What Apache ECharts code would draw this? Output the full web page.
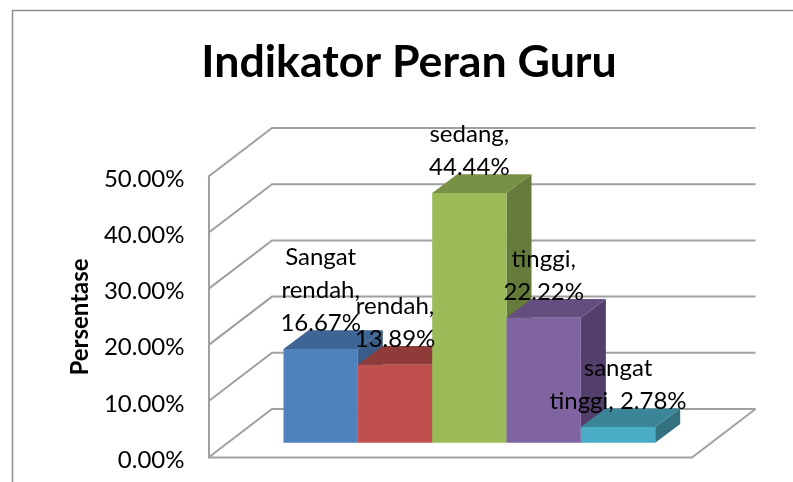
<!DOCTYPE html>
<html>
<head>
<meta charset="utf-8">
<style>html,body{margin:0;padding:0;background:#fff}#c{width:793px;height:482px}</style>
<script src="https://cdn.jsdelivr.net/npm/echarts@6/dist/echarts.min.js"></script>
</head>
<body>
<div id="c"></div>
<script>
const titleText = 'Indikator Peran Guru';
const axisName = 'Persentase';
const categories = ['Sangat rendah', 'rendah', 'sedang', 'tinggi', 'sangat tinggi'];
const values = [16.67, 13.89, 44.44, 22.22, 2.78];
const labelTexts = ['Sangat\nrendah,\n16.67%', 'rendah,\n13.89%', 'sedang,\n44.44%', 'tinggi,\n22.22%', 'sangat\ntinggi, 2.78%'];
const wallTicks = [0, 10, 20, 30, 40, 50];
const frontColors = ['#4f81bd', '#c0504d', '#9bbb59', '#8064a2', '#4bacc6'];
const topColors = ['#3e6594', '#8f3b39', '#799145', '#644e7f', '#3b8599'];
const sideColors = ['#395c88', '#843735', '#667b3b', '#533f6b', '#33717f'];

const FONT = 'Lato';
const WALL_DX = 63.5, WALL_DY = 48.5, BAR_DX = 25, BAR_DY = 18.7;
const LINE = '#a0a0a0';

const chart = echarts.init(document.getElementById('c'), null, {renderer: 'canvas'});

function renderWall(params, api) {
  const v = api.value(1);
  const a = api.coord([0, v]);
  const b = api.coord([1, v]);
  const pts = [[a[0], a[1]], [a[0] + WALL_DX, a[1] - WALL_DY], [b[0] + WALL_DX, b[1] - WALL_DY]];
  const style = {stroke: LINE, lineWidth: 2, fill: null};
  const children = [{type: 'polyline', shape: {points: pts}, style}];
  if (v === 0) {
    children.push({type: 'polyline', shape: {points: [[a[0], a[1]], [b[0], b[1]], [b[0] + WALL_DX, b[1] - WALL_DY]]}, style});
  }
  return {type: 'group', children};
}

function renderBar(params, api) {
  const i = params.dataIndex;
  const w = api.size([1, 0])[0];
  const c = api.coord([i, api.value(1)]);
  const base = api.coord([i, 0]);
  const l = c[0] - w / 2, r = c[0] + w / 2, t = c[1], b = base[1];
  return {
    type: 'group',
    children: [
      {type: 'polygon', shape: {points: [[r, t], [r + BAR_DX, t - BAR_DY], [r + BAR_DX, b - BAR_DY], [r, b]]}, style: {fill: sideColors[i]}},
      {type: 'polygon', shape: {points: [[l, t], [l + BAR_DX, t - BAR_DY], [r + BAR_DX, t - BAR_DY], [r, t]]}, style: {fill: topColors[i]}},
      {type: 'rect', shape: {x: l, y: t, width: r - l, height: b - t}, style: {fill: frontColors[i]}}
    ]
  };
}

function renderLabel(params, api) {
  const i = params.dataIndex;
  const c = api.coord([i, api.value(1)]);
  return {
    type: 'text',
    x: c[0], y: c[1] - 9,
    style: {
      text: labelTexts[i], fill: '#000', align: 'center', verticalAlign: 'bottom',
      font: '24px ' + FONT, lineHeight: 33
    }
  };
}

chart.setOption({
  animation: false,
  backgroundColor: '#ffffff',
  title: {
    text: titleText, left: 404, top: 35, textAlign: 'center',
    textStyle: {fontFamily: FONT, fontWeight: 'bold', fontSize: 44.7, color: '#000'}
  },
  grid: [
    {left: 208.5, top: 176.5, width: 483.5, height: 281},
    {left: 283.5, top: 161.7, width: 371.7, height: 281},
    {left: 208.5, top: 179, width: 483.5, height: 281}
  ],
  xAxis: [
    {gridIndex: 0, type: 'value', min: 0, max: 1, show: false},
    {gridIndex: 1, type: 'category', data: categories, show: false},
    {gridIndex: 2, type: 'value', min: 0, max: 1, show: false}
  ],
  yAxis: [
    {
      gridIndex: 0, type: 'value', min: 0, max: 50, interval: 10,
      name: axisName, nameLocation: 'middle', nameRotate: 90, nameGap: 116,
      nameTextStyle: {fontFamily: FONT, fontWeight: 'bold', fontSize: 24, color: '#000'},
      axisLine: {show: true, lineStyle: {color: LINE, width: 2}},
      axisTick: {show: false}, splitLine: {show: false},
      axisLabel: {show: false}
    },
    {gridIndex: 1, type: 'value', min: 0, max: 50, interval: 10, show: false},
    {
      gridIndex: 2, type: 'value', min: 0, max: 50, interval: 10,
      axisLine: {show: false}, axisTick: {show: false}, splitLine: {show: false},
      axisLabel: {margin: 24, fontFamily: FONT, fontSize: 24, color: '#000', formatter: v => v.toFixed(2) + '%'}
    }
  ],
  graphic: [{
    type: 'polyline', silent: true,
    shape: {points: [[12.5, 482], [12.5, 10.5], [793, 10.5]]},
    style: {stroke: '#8f8f8f', lineWidth: 1.5, fill: null}
  }],
  series: [
    {type: 'custom', xAxisIndex: 0, yAxisIndex: 0, clip: false, z: 1, renderItem: renderWall,
     encode: {x: 0, y: 1}, data: wallTicks.map(v => [0, v])},
    {type: 'custom', xAxisIndex: 1, yAxisIndex: 1, clip: false, z: 2, renderItem: renderBar,
     encode: {x: 0, y: 1}, data: values.map((v, i) => [i, v])},
    {type: 'custom', xAxisIndex: 1, yAxisIndex: 1, clip: false, z: 3, renderItem: renderLabel,
     encode: {x: 0, y: 1}, data: values.map((v, i) => [i, v])}
  ]
});
</script>
</body>
</html>
